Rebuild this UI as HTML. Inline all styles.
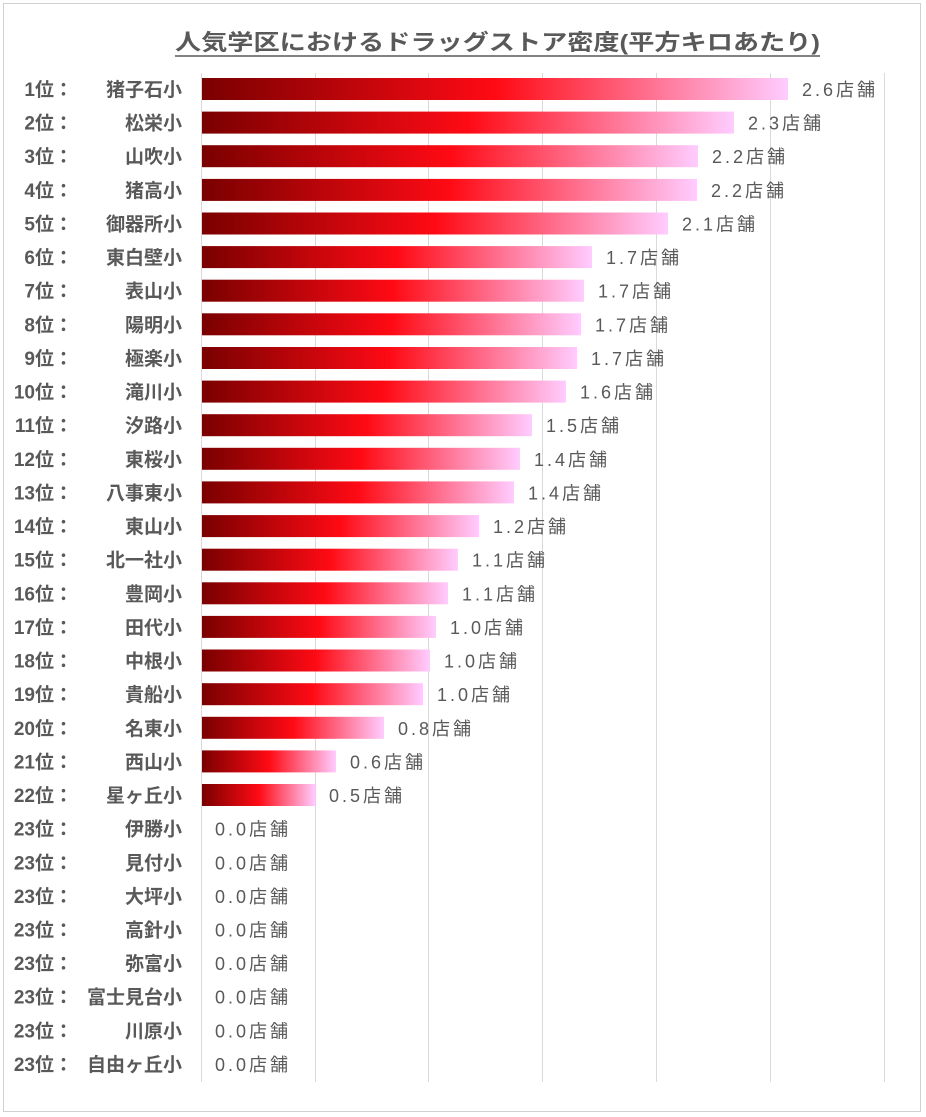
<!DOCTYPE html>
<html><head><meta charset="utf-8"><style>
body{margin:0;background:#fff;}
svg{display:block;font-family:"Liberation Sans","Noto Sans CJK JP",sans-serif;}
</style></head><body>
<svg width="926" height="1117" xmlns="http://www.w3.org/2000/svg">
<defs><linearGradient id="g" x1="0" x2="1" y1="0" y2="0">
<stop offset="0" stop-color="#7a0000"/><stop offset="0.5" stop-color="#ff0a14"/><stop offset="1" stop-color="#ffccff"/></linearGradient></defs>
<rect x="3.5" y="3.5" width="917" height="1108" fill="#fff" stroke="#d0d0d0"/>
<text x="175" y="50" font-size="22" font-weight="bold" fill="#595959" textLength="645" lengthAdjust="spacingAndGlyphs">人気学区におけるドラッグストア密度(平方キロあたり)</text>
<line x1="175" y1="56" x2="820" y2="56" stroke="#595959" stroke-width="1.5"/>
<g stroke="#d9d9d9" stroke-width="1">
<line x1="201.5" y1="73" x2="201.5" y2="1082"/><line x1="315.5" y1="73" x2="315.5" y2="1082"/><line x1="428.5" y1="73" x2="428.5" y2="1082"/><line x1="542.5" y1="73" x2="542.5" y2="1082"/><line x1="656.5" y1="73" x2="656.5" y2="1082"/><line x1="770.5" y1="73" x2="770.5" y2="1082"/><line x1="884.5" y1="73" x2="884.5" y2="1082"/>
</g>
<g fill="url(#g)">
<rect x="202" y="78" width="586" height="22"/>
<rect x="202" y="111.6" width="532" height="22"/>
<rect x="202" y="145.2" width="496" height="22"/>
<rect x="202" y="178.9" width="495" height="22"/>
<rect x="202" y="212.5" width="466" height="22"/>
<rect x="202" y="246.1" width="390" height="22"/>
<rect x="202" y="279.7" width="382" height="22"/>
<rect x="202" y="313.3" width="379" height="22"/>
<rect x="202" y="347" width="375" height="22"/>
<rect x="202" y="380.6" width="364" height="22"/>
<rect x="202" y="414.2" width="330" height="22"/>
<rect x="202" y="447.8" width="318" height="22"/>
<rect x="202" y="481.4" width="312" height="22"/>
<rect x="202" y="515.1" width="277" height="22"/>
<rect x="202" y="548.7" width="256" height="22"/>
<rect x="202" y="582.3" width="246" height="22"/>
<rect x="202" y="615.9" width="234" height="22"/>
<rect x="202" y="649.5" width="228" height="22"/>
<rect x="202" y="683.2" width="221" height="22"/>
<rect x="202" y="716.8" width="182" height="22"/>
<rect x="202" y="750.4" width="134" height="22"/>
<rect x="202" y="784" width="113" height="22"/>
</g>
<g font-size="19" fill="#595959" font-weight="bold" text-anchor="end">
<text x="73" y="96">1位：</text><text x="182" y="96">猪子石小</text>
<text x="73" y="129.6">2位：</text><text x="182" y="129.6">松栄小</text>
<text x="73" y="163.2">3位：</text><text x="182" y="163.2">山吹小</text>
<text x="73" y="196.9">4位：</text><text x="182" y="196.9">猪高小</text>
<text x="73" y="230.5">5位：</text><text x="182" y="230.5">御器所小</text>
<text x="73" y="264.1">6位：</text><text x="182" y="264.1">東白壁小</text>
<text x="73" y="297.7">7位：</text><text x="182" y="297.7">表山小</text>
<text x="73" y="331.3">8位：</text><text x="182" y="331.3">陽明小</text>
<text x="73" y="365">9位：</text><text x="182" y="365">極楽小</text>
<text x="73" y="398.6">10位：</text><text x="182" y="398.6">滝川小</text>
<text x="73" y="432.2">11位：</text><text x="182" y="432.2">汐路小</text>
<text x="73" y="465.8">12位：</text><text x="182" y="465.8">東桜小</text>
<text x="73" y="499.4">13位：</text><text x="182" y="499.4">八事東小</text>
<text x="73" y="533.1">14位：</text><text x="182" y="533.1">東山小</text>
<text x="73" y="566.7">15位：</text><text x="182" y="566.7">北一社小</text>
<text x="73" y="600.3">16位：</text><text x="182" y="600.3">豊岡小</text>
<text x="73" y="633.9">17位：</text><text x="182" y="633.9">田代小</text>
<text x="73" y="667.5">18位：</text><text x="182" y="667.5">中根小</text>
<text x="73" y="701.2">19位：</text><text x="182" y="701.2">貴船小</text>
<text x="73" y="734.8">20位：</text><text x="182" y="734.8">名東小</text>
<text x="73" y="768.4">21位：</text><text x="182" y="768.4">西山小</text>
<text x="73" y="802">22位：</text><text x="182" y="802">星ヶ丘小</text>
<text x="73" y="835.6">23位：</text><text x="182" y="835.6">伊勝小</text>
<text x="73" y="869.3">23位：</text><text x="182" y="869.3">見付小</text>
<text x="73" y="902.9">23位：</text><text x="182" y="902.9">大坪小</text>
<text x="73" y="936.5">23位：</text><text x="182" y="936.5">高針小</text>
<text x="73" y="970.1">23位：</text><text x="182" y="970.1">弥富小</text>
<text x="73" y="1003.7">23位：</text><text x="182" y="1003.7">富士見台小</text>
<text x="73" y="1037.4">23位：</text><text x="182" y="1037.4">川原小</text>
<text x="73" y="1071">23位：</text><text x="182" y="1071">自由ヶ丘小</text>
</g>
<g font-size="18" fill="#595959">
<text x="802" y="96" textLength="73">2.6店舗</text>
<text x="748" y="129.6" textLength="73">2.3店舗</text>
<text x="712" y="163.2" textLength="73">2.2店舗</text>
<text x="711" y="196.9" textLength="73">2.2店舗</text>
<text x="682" y="230.5" textLength="73">2.1店舗</text>
<text x="606" y="264.1" textLength="73">1.7店舗</text>
<text x="598" y="297.7" textLength="73">1.7店舗</text>
<text x="595" y="331.3" textLength="73">1.7店舗</text>
<text x="591" y="365" textLength="73">1.7店舗</text>
<text x="580" y="398.6" textLength="73">1.6店舗</text>
<text x="546" y="432.2" textLength="73">1.5店舗</text>
<text x="534" y="465.8" textLength="73">1.4店舗</text>
<text x="528" y="499.4" textLength="73">1.4店舗</text>
<text x="493" y="533.1" textLength="73">1.2店舗</text>
<text x="472" y="566.7" textLength="73">1.1店舗</text>
<text x="462" y="600.3" textLength="73">1.1店舗</text>
<text x="450" y="633.9" textLength="73">1.0店舗</text>
<text x="444" y="667.5" textLength="73">1.0店舗</text>
<text x="437" y="701.2" textLength="73">1.0店舗</text>
<text x="398" y="734.8" textLength="73">0.8店舗</text>
<text x="350" y="768.4" textLength="73">0.6店舗</text>
<text x="329" y="802" textLength="73">0.5店舗</text>
<text x="215" y="835.6" textLength="73">0.0店舗</text>
<text x="215" y="869.3" textLength="73">0.0店舗</text>
<text x="215" y="902.9" textLength="73">0.0店舗</text>
<text x="215" y="936.5" textLength="73">0.0店舗</text>
<text x="215" y="970.1" textLength="73">0.0店舗</text>
<text x="215" y="1003.7" textLength="73">0.0店舗</text>
<text x="215" y="1037.4" textLength="73">0.0店舗</text>
<text x="215" y="1071" textLength="73">0.0店舗</text>
</g>
</svg>
</body></html>
